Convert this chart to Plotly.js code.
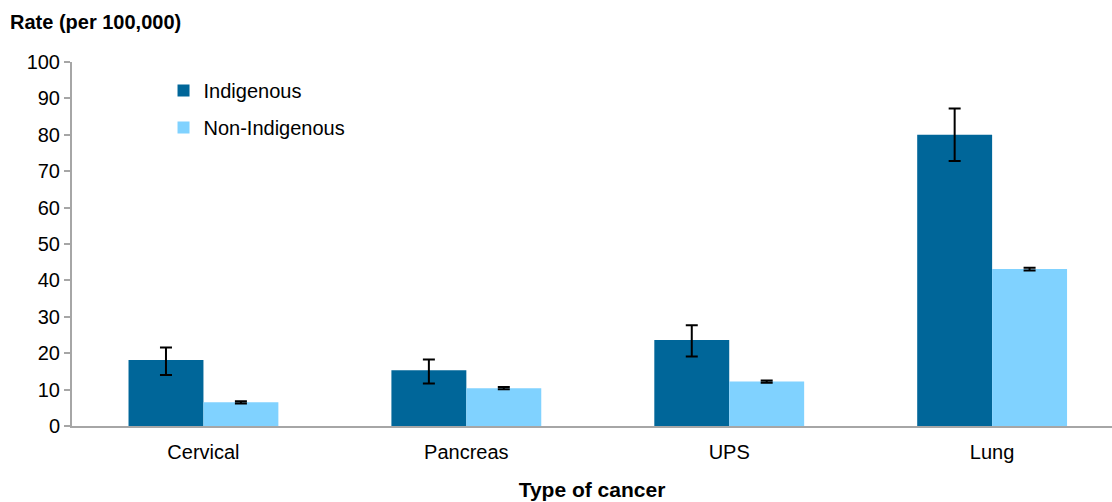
<!DOCTYPE html>
<html>
<head>
<meta charset="utf-8">
<script src="https://cdn.plot.ly/plotly-3.0.1.min.js"></script>
<style>html,body{margin:0;padding:0;background:#fff;}</style>
</head>
<body>
<div id="chart" style="width:1112px;height:502px;"></div>
<script>
const categories = ["Cervical", "Pancreas", "UPS", "Lung"];
const indigenous = [18.1, 15.3, 23.6, 80.0];
const indigenousErrPlus = [3.5, 3.0, 4.1, 7.2];
const indigenousErrMinus = [4.1, 3.6, 4.5, 7.2];
const nonIndigenous = [6.5, 10.4, 12.2, 43.1];
const nonIndigenousErr = [0.3, 0.3, 0.3, 0.4];
const yTicks = [0, 10, 20, 30, 40, 50, 60, 70, 80, 90, 100];

const font = {family: "Liberation Sans, Arial, sans-serif", color: "#000"};
const fs = 20;

const traces = [
  {
    type: "bar", name: "Indigenous", x: categories, y: indigenous, legendgroup: "a",
    marker: {color: "#006699"},
    error_y: {type: "data", symmetric: false, array: indigenousErrPlus, arrayminus: indigenousErrMinus,
              color: "#000", thickness: 2, width: 6}
  },
  {
    type: "bar", name: "Non-Indigenous", x: categories, y: nonIndigenous, legendgroup: "b",
    marker: {color: "#80D2FF"},
    error_y: {type: "data", array: nonIndigenousErr, color: "#000", thickness: 2, width: 6}
  }
];

const layout = {
  width: 1112, height: 502,
  margin: {l: 72, r: 0, t: 62, b: 76},
  paper_bgcolor: "#fff", plot_bgcolor: "#fff",
  font: Object.assign({size: fs}, font),
  barmode: "group", bargap: 0.43, bargroupgap: 0,
  showlegend: true,
  legend: {x: 0.088, y: 0.975, xanchor: "left", yanchor: "top", font: Object.assign({size: fs}, font),
           bgcolor: "rgba(0,0,0,0)", tracegroupgap: 8, itemwidth: 30, traceorder: "grouped"},
  xaxis: {
    range: [-0.5, 3.456], showline: true, linecolor: "#A6A6A6", linewidth: 2,
    ticks: "outside", ticklen: 7, tickcolor: "rgba(0,0,0,0)",
    tickfont: Object.assign({size: fs}, font), showgrid: false, zeroline: false,
    title: {text: "<b>Type of cancer</b>", font: Object.assign({size: 21}, font), standoff: 20}
  },
  yaxis: {
    range: [0, 100], tickvals: yTicks, showline: true, linecolor: "#A6A6A6", linewidth: 2,
    ticks: "outside", ticklen: 6, tickcolor: "#A6A6A6", tickwidth: 2,
    tickfont: Object.assign({size: fs}, font), showgrid: false, zeroline: false
  },
  annotations: [{
    text: "<b>Rate (per 100,000)</b>", xref: "paper", yref: "paper", x: -0.0615, y: 1.11,
    xanchor: "left", yanchor: "middle", showarrow: false, font: Object.assign({size: 20}, font)
  }]
};

Plotly.newPlot("chart", traces, layout, {staticPlot: true});
</script>
</body>
</html>
